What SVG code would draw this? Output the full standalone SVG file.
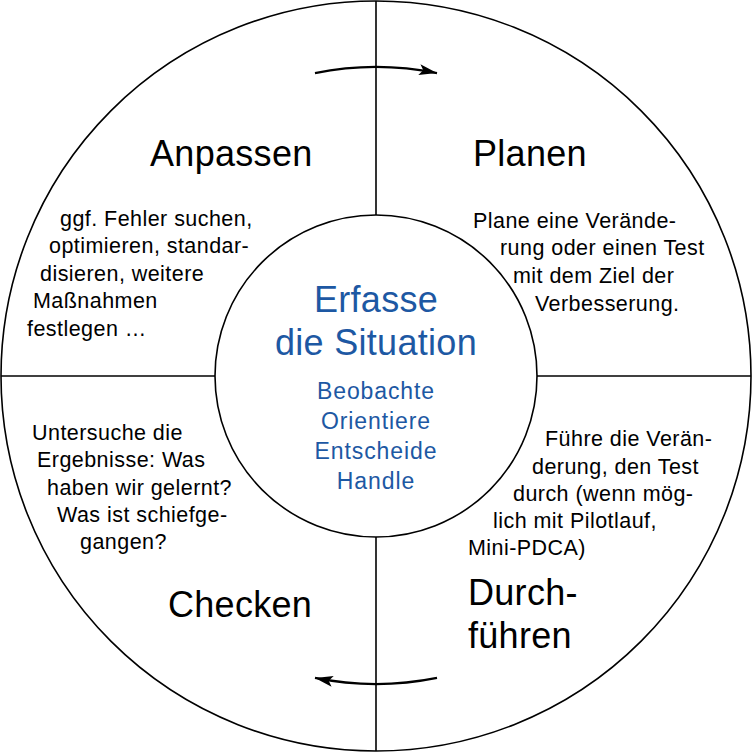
<svg xmlns="http://www.w3.org/2000/svg" width="752" height="752" viewBox="0 0 752 752">
<style>
text{font-family:"Liberation Sans",Arial,Helvetica,sans-serif;}
.title{font-size:36px;fill:#000;letter-spacing:0.3px;}
.body{font-size:21.5px;fill:#000;letter-spacing:0.45px;}
.ctitle{font-size:36px;fill:#1d58a3;letter-spacing:0.3px;text-anchor:middle;}
.cbody{font-size:23px;fill:#1d58a3;letter-spacing:0.9px;text-anchor:middle;}
.ln{stroke:#000;stroke-width:1.6;fill:none;}
.arr{stroke:#000;stroke-width:2.2;fill:none;}
</style>
<defs>
<marker id="ah" markerUnits="userSpaceOnUse" markerWidth="20" markerHeight="12" refX="18" refY="5.5" orient="auto">
<path d="M0,0 L18,5.5 L0,11 L4,5.5 z" fill="#000"/>
</marker>
</defs>
<rect width="752" height="752" fill="#fff"/>
<g id="outer">
<circle cx="376" cy="376" r="375" class="ln"/>
</g>
<g id="connectors">
<line x1="376" y1="1" x2="376" y2="215" class="ln"/>
<line x1="376" y1="537" x2="376" y2="751" class="ln"/>
<line x1="1" y1="376" x2="215" y2="376" class="ln"/>
<line x1="537" y1="376" x2="751" y2="376" class="ln"/>
<path d="M315,73.1 A309,309 0 0 1 437,73.1" class="arr" marker-end="url(#ah)"/>
<path d="M437,677.9 A308,308 0 0 1 315,677.9" class="arr" marker-end="url(#ah)"/>
</g>
<g id="center">
<circle cx="376" cy="376" r="161" class="ln" fill="#fff"/>
<text class="ctitle" x="376" y="312">Erfasse</text>
<text class="ctitle" x="376" y="355">die Situation</text>
<text class="cbody" x="376" y="399">Beobachte</text>
<text class="cbody" x="376" y="429">Orientiere</text>
<text class="cbody" x="376" y="459">Entscheide</text>
<text class="cbody" x="376" y="489">Handle</text>
</g>
<g id="anpassen">
<text class="title" x="150" y="166">Anpassen</text>
<text class="body" x="60" y="226">ggf. Fehler suchen,</text>
<text class="body" x="49" y="253">optimieren, standar-</text>
<text class="body" x="40" y="281">disieren, weitere</text>
<text class="body" x="33" y="308">Maßnahmen</text>
<text class="body" x="27" y="336">festlegen …</text>
</g>
<g id="planen">
<text class="title" x="473" y="166">Planen</text>
<text class="body" x="473" y="228">Plane eine Verände-</text>
<text class="body" x="500" y="255">rung oder einen Test</text>
<text class="body" x="513" y="283">mit dem Ziel der</text>
<text class="body" x="535" y="311">Verbesserung.</text>
</g>
<g id="checken">
<text class="title" x="168" y="617">Checken</text>
<text class="body" x="32" y="440">Untersuche die</text>
<text class="body" x="37" y="467">Ergebnisse: Was</text>
<text class="body" x="47" y="495">haben wir gelernt?</text>
<text class="body" x="57" y="522">Was ist schiefge-</text>
<text class="body" x="80" y="549">gangen?</text>
</g>
<g id="durchfuehren">
<text class="title" x="468" y="605">Durch-</text>
<text class="title" x="468" y="648">führen</text>
<text class="body" x="545" y="446">Führe die Verän-</text>
<text class="body" x="532" y="474">derung, den Test</text>
<text class="body" x="513" y="501">durch (wenn mög-</text>
<text class="body" x="493" y="528">lich mit Pilotlauf,</text>
<text class="body" x="468" y="555">Mini-PDCA)</text>
</g>
</svg>
